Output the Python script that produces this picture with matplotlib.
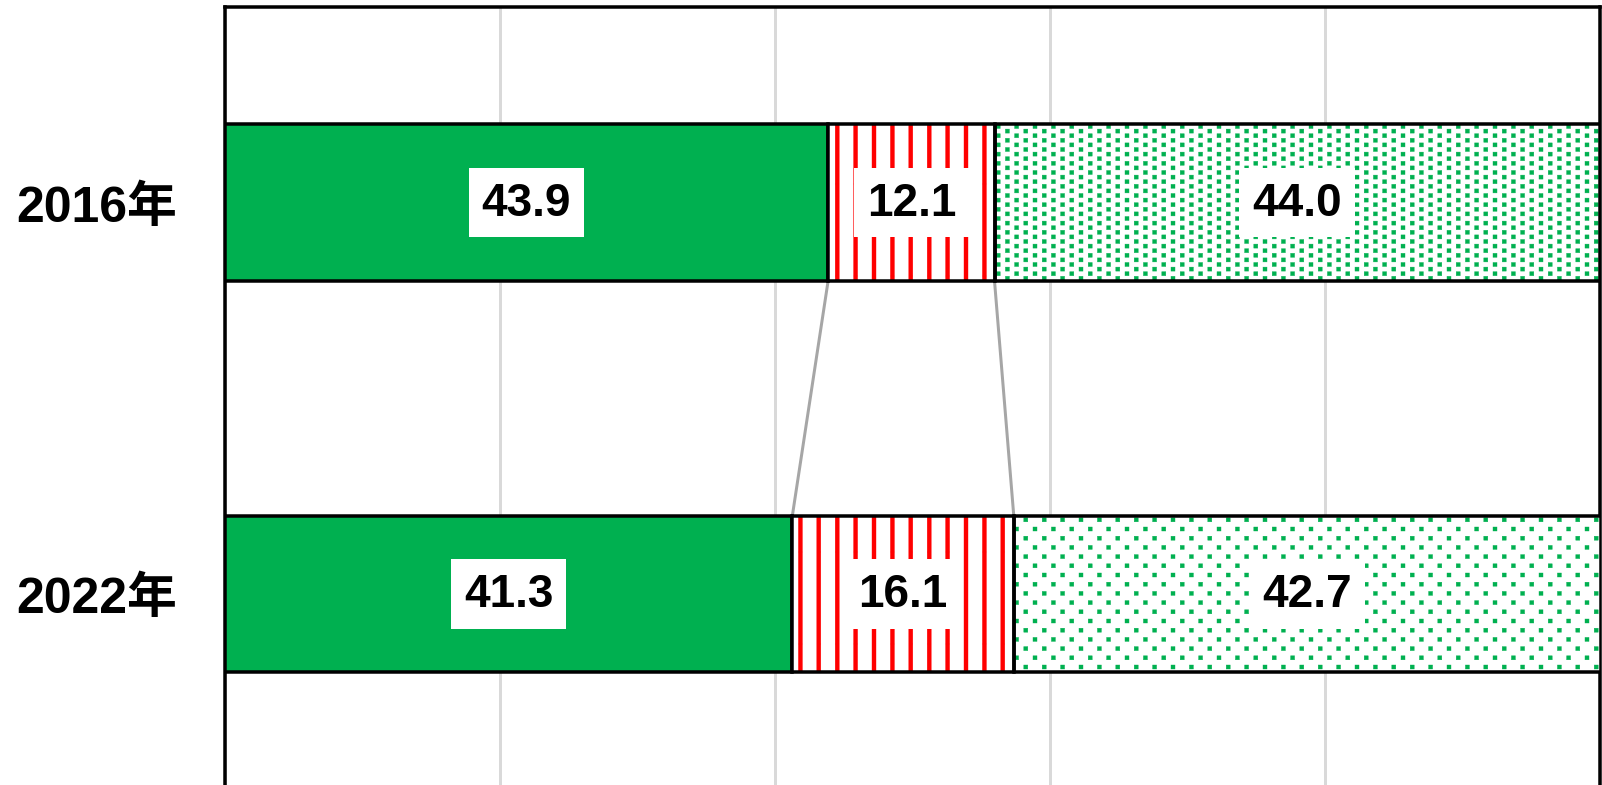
import numpy as np
import matplotlib
matplotlib.use("Agg")
import matplotlib.pyplot as plt
import matplotlib.hatch as mhatch
from matplotlib.path import Path

# ---------------- data ----------------
years = ["2016年", "2022年"]
seg_a = [43.9, 41.3]   # solid green
seg_b = [12.1, 16.1]   # red stripes
seg_c = [44.0, 42.7]   # green dots
hatches_c = ["..", "."]  # dense dots for 2016, sparse for 2022

# ---------------- styles ----------------
DPI = 92
W, H = 1602, 786
GREEN = "#00B050"
RED = "#FF0000"
GRID = "#D9D9D9"
CONN = "#A6A6A6"
PX = 72.0 / DPI  # points per pixel

# custom hatch patterns (tile = 1 inch = DPI px)
STRIPE_W = 4.0 / DPI
DOT_S = 4.0 / DPI


class StripeHatch(mhatch.HatchPatternBase):
    def __init__(self, hatch, density):
        self.n = hatch.count('|') * 5
        self.num_vertices = self.n * 5

    def set_vertices_and_codes(self, vertices, codes):
        hw = STRIPE_W / 2
        for i in range(self.n):
            x = (i + 0.5) / self.n
            vertices[i * 5:(i + 1) * 5] = [(x - hw, 0), (x + hw, 0), (x + hw, 1),
                                           (x - hw, 1), (x - hw, 0)]
            codes[i * 5:(i + 1) * 5] = [Path.MOVETO, Path.LINETO, Path.LINETO,
                                        Path.LINETO, Path.CLOSEPOLY]


class SquareDotHatch(mhatch.HatchPatternBase):
    def __init__(self, hatch, density):
        k = hatch.count('.')
        cols = 10
        rows = 10 * k
        self.pts = [((i + 0.5) / cols, (j + 0.5) / rows)
                    for i in range(cols) for j in range(rows) if (i + j) % 2 == 0]
        self.num_vertices = len(self.pts) * 5

    def set_vertices_and_codes(self, vertices, codes):
        h = DOT_S / 2
        for n, (x, y) in enumerate(self.pts):
            vertices[n * 5:(n + 1) * 5] = [(x - h, y - h), (x + h, y - h), (x + h, y + h),
                                           (x - h, y + h), (x - h, y - h)]
            codes[n * 5:(n + 1) * 5] = [Path.MOVETO, Path.LINETO, Path.LINETO,
                                        Path.LINETO, Path.CLOSEPOLY]


mhatch._hatch_types = [StripeHatch, SquareDotHatch]
plt.rcParams['hatch.linewidth'] = 0.3

NUM_FONT = ['Liberation Sans', 'DejaVu Sans']
YEAR_FONT = ['Liberation Sans', 'Noto Sans CJK JP', 'DejaVu Sans']

fig = plt.figure(figsize=(W / DPI, H / DPI), dpi=DPI)
ax = fig.add_axes([224.5 / W, -4.4 / H, 1375 / W, 782.4 / H])

y = np.arange(len(years))
bh = 0.4
a = np.array(seg_a)
b = np.array(seg_b)
c = np.array(seg_c)
left_b = a
left_c = a + b

edge_lw = 3.5 * PX
# solid green
ax.barh(y, a, height=bh, color=GREEN, edgecolor="black", linewidth=edge_lw, zorder=3)
# red stripes
ax.barh(y, b, left=left_b, height=bh, facecolor="white", edgecolor=RED,
        linewidth=0, hatch="|", zorder=3)
ax.barh(y, b, left=left_b, height=bh, fill=False, edgecolor="black",
        linewidth=edge_lw, zorder=4)
# green dots
for i in range(len(years)):
    ax.barh(y[i], c[i], left=left_c[i], height=bh, facecolor="white", edgecolor=GREEN,
            linewidth=0, hatch=hatches_c[i], zorder=3)
ax.barh(y, c, left=left_c, height=bh, fill=False, edgecolor="black",
        linewidth=edge_lw, zorder=4)

# connector lines between segment boundaries
for bound in (left_b, left_c):
    for i in range(len(years) - 1):
        ax.plot([bound[i], bound[i + 1]], [y[i] + bh / 2, y[i + 1] - bh / 2],
                color=CONN, lw=3 * PX, zorder=2, solid_capstyle="butt")

# value labels
bbox = dict(boxstyle="square,pad=0.28", fc="white", ec="none")
for i in range(len(years)):
    for lft, val in ((0, a[i]), (left_b[i], b[i]), (left_c[i], c[i])):
        ax.text(lft + val / 2, y[i], f"{val:.1f}", ha="center", va="center",
                fontsize=36, fontweight="bold", family=NUM_FONT, color="black",
                bbox=bbox, zorder=6)

ax.set_xlim(0, 100)
ax.set_ylim(1.5, -0.5)
ax.set_xticks(np.arange(0, 101, 20))
ax.grid(axis="x", color=GRID, lw=3 * PX, zorder=0)
ax.set_axisbelow(True)
ax.tick_params(axis="x", length=0, labelbottom=False)
ax.set_yticks(y)
ax.set_yticklabels(years, fontsize=39, fontweight="bold", family=YEAR_FONT)
ax.tick_params(axis="y", length=0, pad=47 * PX)

for s in ("top", "left", "right"):
    ax.spines[s].set_color("black")
    ax.spines[s].set_linewidth(3.5 * PX)
ax.spines["bottom"].set_visible(False)

fig.savefig("out.png", dpi=DPI, facecolor="white")
